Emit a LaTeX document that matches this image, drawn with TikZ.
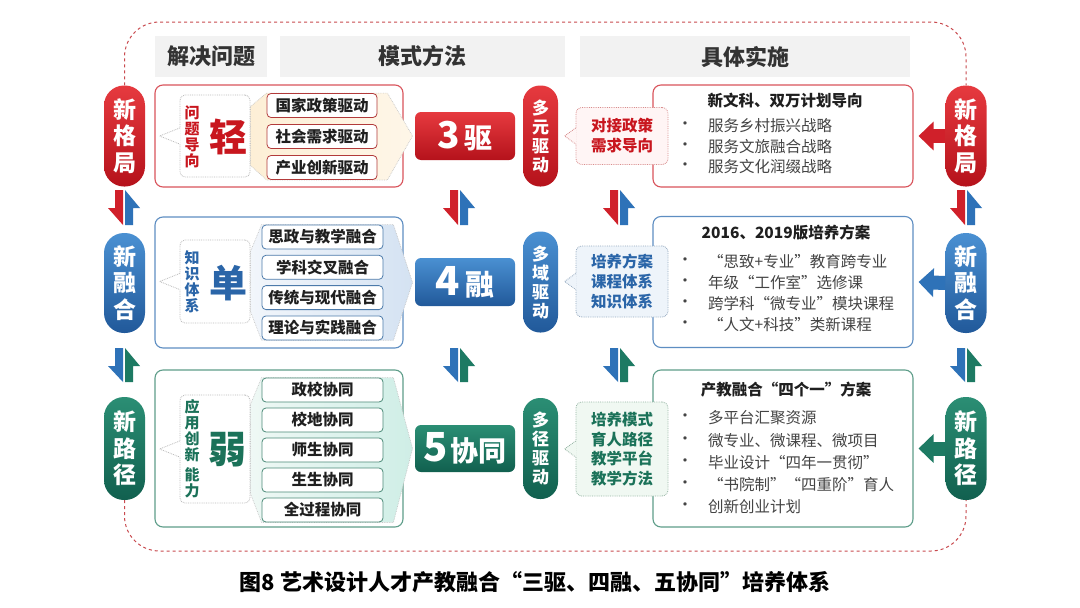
\documentclass[tikz,border=0pt]{standalone}
\usepackage{fontspec}
\setmainfont{Noto Sans CJK SC}
\usepackage{xcolor}
\usetikzlibrary{arrows.meta}
\pgfdeclarelayer{back}
\pgfdeclarelayer{mid}
\pgfsetlayers{back,mid,main}
\definecolor{rdT}{HTML}{E63A3F}\definecolor{rdB}{HTML}{B5121B}\definecolor{rdA}{HTML}{D0202A}
\definecolor{rdL}{HTML}{D9545C}\definecolor{rdD}{HTML}{B23A3A}\definecolor{rd}{HTML}{C8161E}
\definecolor{rdM}{HTML}{D88C8C}\definecolor{calA}{HTML}{FFF5F5}
\definecolor{blT}{HTML}{4A90D2}\definecolor{blB}{HTML}{21599A}\definecolor{blA}{HTML}{2E72B8}
\definecolor{blL}{HTML}{5E8EC2}\definecolor{blD}{HTML}{4C7AAA}\definecolor{bl}{HTML}{2A65A8}
\definecolor{blM}{HTML}{93A8BE}\definecolor{calB}{HTML}{EEF4FA}
\definecolor{gnT}{HTML}{2B8E74}\definecolor{gnB}{HTML}{11604F}\definecolor{gnA}{HTML}{1D7A63}
\definecolor{gnL}{HTML}{5F9E8A}\definecolor{gnD}{HTML}{4B8A77}\definecolor{gn}{HTML}{1B7259}
\definecolor{gnM}{HTML}{93B3A2}\definecolor{calC}{HTML}{F0F8F2}
\definecolor{hdg}{HTML}{F2F2F2}\definecolor{txd}{HTML}{333333}\definecolor{txb}{HTML}{1F1F1F}
\definecolor{txg}{HTML}{444444}\definecolor{frmc}{HTML}{C94A4F}
\definecolor{chA1}{HTML}{FDEFD6}\definecolor{chA2}{HTML}{FEF6E8}
\definecolor{chB1}{HTML}{F2F6FB}\definecolor{chB2}{HTML}{D4E2F2}
\definecolor{chC1}{HTML}{EFF8F5}\definecolor{chC2}{HTML}{CFEEE6}
\newcommand{\fsz}[2]{\fontsize{#1}{#2}\selectfont}
\tikzset{
  frm/.style={dashed,draw=frmc,line width=1pt,rounded corners=35pt},
  hd/.style={fill=hdg,minimum height=41pt,inner sep=0pt,font=\fsz{22}{22}\bfseries,text=txd},
  pil/.style={rounded corners=20pt,minimum width=41pt,inner sep=0pt,text=white,align=center,font=\fsz{23}{26.5}\bfseries},
  rbox/.style={draw,rounded corners=8pt,line width=1.1pt,fill=white,inner sep=0pt},
  itm/.style={draw,rounded corners=4pt,line width=0.8pt,fill=white,minimum height=24pt,inner sep=0pt,font=\fsz{15.5}{16}\bfseries,text=txb},
  tagb/.style={draw=gray!55,densely dotted,line width=0.8pt,rounded corners=5pt,fill=white,minimum width=70pt,inner sep=0pt},
  vtx/.style={align=center,inner sep=0pt,font=\fsz{15}{16}\bfseries},
  big/.style={inner sep=0pt,font=\fsz{38}{38}\bfseries},
  chev/.style={draw=gray!45,densely dotted,line width=0.7pt},
  mbox/.style={rounded corners=6pt,minimum width=100pt,minimum height=48pt,inner sep=0pt,text=white,font=\bfseries},
  drv/.style={rounded corners=17pt,minimum width=35pt,minimum height=101pt,inner sep=0pt,text=white,align=center,font=\fsz{17}{19}\bfseries},
  cbox/.style={densely dotted,line width=0.8pt,rounded corners=6pt,minimum width=92pt,inner sep=0pt,align=center,font=\fsz{15.5}{20}\bfseries},
  ttl/.style={inner sep=0pt,font=\fsz{15.5}{16}\bfseries,text=txb},
  bul/.style={inner sep=0pt,font=\fsz{16}{16},text=txg},
  btx/.style={anchor=west,inner sep=0pt,font=\fsz{15.5}{16},text=txg},
  rar/.style={line width=14pt,-{Triangle[length=15pt,width=28pt]}}
}
% pointer of a dotted callout: node, length, fill, border
\newcommand{\jian}[4]{%
  \fill[#3] ([xshift=1pt,yshift=8pt]#1.west) -- ([xshift=-#2]#1.west) -- ([xshift=1pt,yshift=-8pt]#1.west) -- cycle;
  \draw[#4,densely dotted,line width=0.8pt] ([yshift=8pt]#1.west) -- ([xshift=-#2]#1.west) -- ([yshift=-8pt]#1.west);}
% pair of half arrows: inner x, top y, bottom y, down colour, up colour
\newcommand{\duoarr}[5]{%
  \fill[#4] (#1-8,#2) -- (#1,#2) -- (#1,#3) -- (#1-15,#2+18) -- (#1-8,#2+18) -- cycle;
  \fill[#5] (#1+2,#2) -- (#1+17,#2+18) -- (#1+10,#2+18) -- (#1+10,#3) -- (#1+2,#3) -- cycle;}

\begin{document}
\begin{tikzpicture}[x=1pt,y=-1pt]
\useasboundingbox (0,0) rectangle (1080,608);
\begin{pgfonlayer}{back}
\fill[white] (0,0) rectangle (1080,608);
\end{pgfonlayer}

% column headers
\node[hd,minimum width=112pt] (h1) at (211,56.5) {解决问题};
\node[hd,minimum width=285pt] (h2) at (422.5,56.5) {模式方法};
\node[hd,minimum width=330pt] (h3) at (745,56.5) {具体实施};

% side pills
\node[pil,minimum height=101pt,top color=rdT,bottom color=rdB] (lp1) at (124.5,136) {新\\格\\局};
\node[pil,minimum height=100pt,top color=blT,bottom color=blB] (lp2) at (124.5,283) {新\\融\\合};
\node[pil,minimum height=103pt,top color=gnT,bottom color=gnB] (lp3) at (124.5,448.5) {新\\路\\径};
\node[pil,minimum height=101pt,top color=rdT,bottom color=rdB] (rp1) at (966,136) {新\\格\\局};
\node[pil,minimum height=100pt,top color=blT,bottom color=blB] (rp2) at (966,283) {新\\融\\合};
\node[pil,minimum height=103pt,top color=gnT,bottom color=gnB] (rp3) at (966,448.5) {新\\路\\径};

% dashed frame
\coordinate (ft) at (0,22);
\coordinate (fb) at (0,551);
\draw[frm] (lp1.north) -- (lp1.north |- ft) -- (rp1.north |- ft) -- (rp1.north);
\draw[frm] (lp3.south) -- (lp3.south |- fb) -- (rp3.south |- fb) -- (rp3.south);

% problem boxes
\begin{pgfonlayer}{back}
\node[rbox,draw=rdL,minimum width=248pt,minimum height=102pt] (p1) at (279,136) {};
\node[rbox,draw=blL,minimum width=248pt,minimum height=131pt] (p2) at (279,282.5) {};
\node[rbox,draw=gnL,minimum width=248pt,minimum height=157pt] (p3) at (279,448.5) {};
\end{pgfonlayer}

% row 1
\node[tagb,minimum height=82pt] (t1) at (215,136) {};
\jian{t1}{20pt}{white}{gray!55}
\node[vtx,text=rd] (tt1) at (192,136.5) {问\\题\\导\\向};
\node[big,text=rd] (bc1) at (228,137) {轻};
\foreach \t [count=\i] in {国家政策驱动,社会需求驱动,产业创新驱动}
  \node[itm,draw=rdD,minimum width=110pt] (k1\i) at (322,{74.5+\i*31}) {\t};
\begin{pgfonlayer}{mid}
\path[chev,left color=chA1,right color=chA2] ([yshift=-12pt]t1.north east) -- (k11.north west)
  -- ([xshift=10pt]k11.north east) -- ([xshift=9pt]p1.east) -- ([xshift=10pt]k13.south east)
  -- (k13.south west) -- ([yshift=12pt]t1.south east) -- cycle;
\end{pgfonlayer}

% row 2
\node[tagb,minimum height=83pt] (t2) at (215,281.5) {};
\jian{t2}{20pt}{white}{gray!55}
\node[vtx,text=bl] (tt2) at (192,282) {知\\识\\体\\系};
\node[big,text=bl] (bc2) at (228,283) {单};
\foreach \t [count=\i] in {思政与教学融合,学科交叉融合,传统与现代融合,理论与实践融合}
  \node[itm,draw=blD,minimum width=121pt] (k2\i) at (322.5,{206.7+\i*30.3}) {\t};
\begin{pgfonlayer}{mid}
\path[chev,left color=chB1,right color=chB2] ([yshift=-12pt]t2.north east) -- (k21.north west)
  -- ([xshift=10pt]k21.north east) -- ([xshift=9pt]p2.east) -- ([xshift=10pt]k24.south east)
  -- (k24.south west) -- ([yshift=12pt]t2.south east) -- cycle;
\end{pgfonlayer}

% row 3
\node[tagb,minimum height=108pt] (t3) at (215,449) {};
\jian{t3}{20pt}{white}{gray!55}
\node[vtx,text=gn] (tt3) at (192,449) {应\\用\\创\\新\\[4pt]能\\力};
\node[big,text=gn] (bc3) at (227,450) {弱};
\foreach \t [count=\i] in {政校协同,校地协同,师生协同,生生协同,全过程协同}
  \node[itm,draw=gnD,minimum width=121pt] (k3\i) at (322.5,{360+\i*30}) {\t};
\begin{pgfonlayer}{mid}
\path[chev,left color=chC1,right color=chC2] ([yshift=-10pt]t3.north east) -- (k31.north west)
  -- ([xshift=10pt]k31.north east) -- ([xshift=9pt]p3.east) -- ([xshift=10pt]k35.south east)
  -- (k35.south west) -- ([yshift=10pt]t3.south east) -- cycle;
\end{pgfonlayer}

% mode boxes
\node[mbox,top color=rdT,bottom color=rdB] (m1) at (465,136) {{\fsz{37}{37}3}\hspace{5pt}{\fsz{28}{28}驱}};
\node[mbox,top color=blT,bottom color=blB] (m2) at (465,282) {{\fsz{40}{40}4}\hspace{5pt}{\fsz{29}{29}融}};
\node[mbox,top color=gnT,bottom color=gnB,minimum height=47pt] (m3) at (465,448.5) {{\fsz{40}{40}5}\hspace{3pt}{\fsz{28}{28}协同}};

% driving pills
\node[drv,top color=rdT,bottom color=rdB] (d1) at (540.5,136) {多\\元\\驱\\动};
\node[drv,top color=blT,bottom color=blB] (d2) at (540.5,282) {多\\域\\驱\\动};
\node[drv,top color=gnT,bottom color=gnB] (d3) at (540.5,448.5) {多\\径\\驱\\动};

% implementation boxes
\node[rbox,draw=rdL,minimum width=260pt,minimum height=102pt] (s1) at (783,136) {};
\node[ttl] (s1t) at (785,101) {新文科、双万计划导向};
\foreach \t [count=\i] in {服务乡村振兴战略,服务文旅融合战略,服务文化润缀战略} {
  \node[bul] (s1b\i) at (685,{105.5+\i*20.5}) {•};
  \node[btx] (s1x\i) at (708,{105.5+\i*20.5}) {\t};}
\node[rbox,draw=blL,minimum width=260pt,minimum height=131pt] (s2) at (783,282) {};
\node[ttl] (s2t) at (786,233) {2016、2019版培养方案};
\foreach \t [count=\i] in {“思致+专业”教育跨专业,年级“工作室”选修课,跨学科“微专业”模块课程,“人文+科技”类新课程} {
  \node[bul] (s2b\i) at (685,{241+\i*21}) {•};
  \node[btx] (s2x\i) at (708,{241+\i*21}) {\t};}
\node[rbox,draw=gnL,minimum width=260pt,minimum height=157pt] (s3) at (783,448.5) {};
\node[ttl] (s3t) at (786,390) {产教融合“四个一”方案};
\foreach \t [count=\i] in {多平台汇聚资源,微专业、微课程、微项目,毕业设计“四年一贯彻”,“书院制”“四重阶”育人,创新创业计划} {
  \node[bul] (s3b\i) at (685,{395.8+\i*22.2}) {•};
  \node[btx] (s3x\i) at (708,{395.8+\i*22.2}) {\t};}

% callouts
\node[cbox,draw=rdM,fill=calA,minimum height=57pt,text=rd] (c1) at (622,136) {对接政策\\需求导向};
\jian{c1}{11pt}{calA}{rdM}
\node[cbox,draw=blM,fill=calB,minimum height=71pt,text=bl] (c2) at (622,281.5) {培养方案\\课程体系\\知识体系};
\jian{c2}{11pt}{calB}{blM}
\node[cbox,draw=gnM,fill=calC,minimum height=94pt,text=gn,font=\fsz{15.5}{19.5}\bfseries] (c3) at (622,449) {培养模式\\育人路径\\教学平台\\教学方法};
\jian{c3}{11pt}{calC}{gnM}

% arrows into implementation
\draw[rar,rdA] (rp1.west) -- ([xshift=5pt]s1.east);
\draw[rar,blA] (rp2.west) -- ([xshift=5pt]s2.east);
\draw[rar,gnA] (rp3.west) -- ([xshift=5pt]s3.east);

% up/down half arrows
\duoarr{123}{190}{225}{rdA}{blA}
\duoarr{458}{190}{225}{rdA}{blA}
\duoarr{618}{190}{225}{rdA}{blA}
\duoarr{965}{190}{225}{rdA}{blA}
\duoarr{123}{348}{382}{blA}{gnA}
\duoarr{458}{348}{382}{blA}{gnA}
\duoarr{618}{348}{382}{blA}{gnA}
\duoarr{965}{348}{382}{blA}{gnA}

% caption
\node[inner sep=0pt,font=\fsz{22}{22}\bfseries] (cap) at (535,582) {图8 艺术设计人才产教融合“三驱、四融、五协同”培养体系};
\end{tikzpicture}
\end{document}
